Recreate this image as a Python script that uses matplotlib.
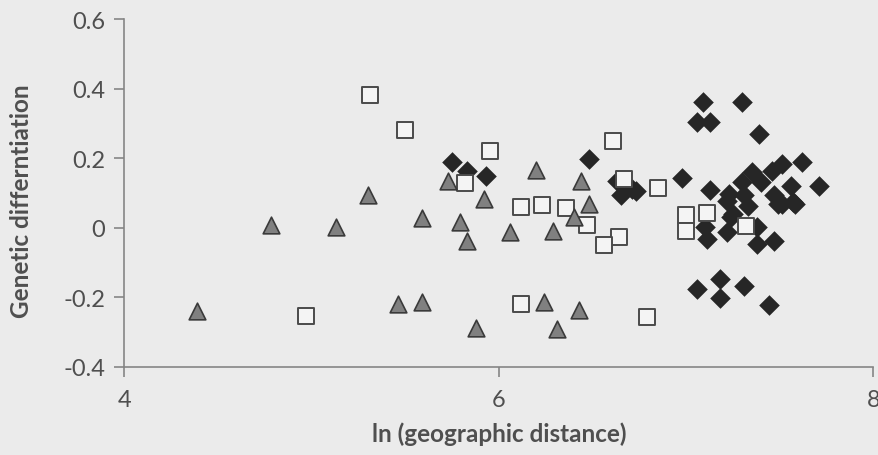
import matplotlib.pyplot as plt

# ln(distance) vs genetic differentiation, three groups of population pairs
tri_x = [4.39, 4.78, 5.13, 5.30, 5.46, 5.59, 5.59, 5.73, 5.79, 5.83, 5.92, 5.88,
         6.20, 6.44, 6.48, 6.40, 6.06, 6.29, 6.24, 6.43, 6.31]
tri_y = [-0.239, 0.009, 0.002, 0.093, -0.218, -0.213, 0.028, 0.134, 0.018, -0.039, 0.083, -0.288,
         0.166, 0.136, 0.069, 0.031, -0.012, -0.009, -0.213, -0.237, -0.292]

sq_x = [5.31, 5.50, 5.95, 5.82, 4.97, 6.61, 6.67, 6.85, 6.12, 6.23, 6.36, 6.47,
        6.64, 6.56, 7.00, 7.11, 7.00, 7.32, 6.12, 6.79]
sq_y = [0.382, 0.281, 0.222, 0.128, -0.253, 0.250, 0.141, 0.114, 0.059, 0.067, 0.057, 0.009,
        -0.027, -0.048, 0.037, 0.043, -0.008, 0.004, -0.218, -0.255]

dia_x = [5.75, 5.83, 5.93, 6.48, 6.63, 6.71, 6.65, 6.73, 6.98, 7.09, 7.30, 7.06,
         7.13, 7.39, 7.13, 7.62, 7.71, 7.51, 7.35, 7.46, 7.30, 7.40, 7.56, 7.23,
         7.31, 7.47, 7.57, 7.49, 7.33, 7.25, 7.22, 7.51, 7.58, 7.24, 7.11, 7.22,
         7.38, 7.47, 7.10, 7.38, 7.18, 7.06, 7.18, 7.31, 7.44]
dia_y = [0.189, 0.164, 0.150, 0.198, 0.135, 0.112, 0.093, 0.107, 0.143, 0.361, 0.362, 0.305,
         0.305, 0.270, 0.110, 0.190, 0.121, 0.184, 0.160, 0.164, 0.131, 0.131, 0.121, 0.098,
         0.093, 0.093, 0.074, 0.069, 0.064, 0.040, 0.078, 0.069, 0.069, 0.031, -0.032, -0.012,
         -0.046, -0.039, 0.002, 0.002, -0.146, -0.177, -0.201, -0.167, -0.223]

bg = '#ebebeb'
axis_col = '#858585'
text_col = '#4f4f4f'
font = 'Lato'

fig = plt.figure(figsize=(8.79, 4.56), dpi=100, facecolor=bg)
ax = fig.add_axes([0.1416, 0.193, 0.852, 0.763], facecolor=bg)

ax.scatter(dia_x, dia_y, marker='D', s=10.5**2, color='#262626', linewidths=0, zorder=3)
ax.scatter(sq_x, sq_y, marker='s', s=11.5**2, facecolor='#f4f4f4', edgecolor='#4a4a4a',
           linewidths=1.4, zorder=4)
ax.scatter(tri_x, tri_y, marker='^', s=12**2, facecolor='#808080', edgecolor='#3a3a3a',
           linewidths=1.2, zorder=5)

ax.set_xlim(4, 8)
ax.set_ylim(-0.4, 0.6)
ax.set_xticks([4, 6, 8])
ax.set_yticks([-0.4, -0.2, 0, 0.2, 0.4, 0.6])
ax.set_yticklabels(['-0.4', '-0.2', '0', '0.2', '0.4', '0.6'])

for side in ['top', 'right']:
    ax.spines[side].set_visible(False)
for side in ['left', 'bottom']:
    ax.spines[side].set_color(axis_col)
    ax.spines[side].set_linewidth(1.2)

ax.tick_params(axis='both', colors=axis_col, length=7, width=1.2,
               labelcolor=text_col, labelsize=17)
ax.tick_params(axis='y', pad=7)
ax.tick_params(axis='x', pad=9)
for lbl in ax.get_xticklabels() + ax.get_yticklabels():
    lbl.set_fontfamily(font)

ax.set_xlabel('ln (geographic distance)', fontsize=17.5, fontweight='bold',
              color=text_col, family=font)
ax.set_ylabel('Genetic differntiation', fontsize=17.5, fontweight='bold',
              color=text_col, family=font)
ax.xaxis.set_label_coords(0.5, -0.155)
ax.yaxis.set_label_coords(-0.122, 0.48)

fig.savefig('out.png', dpi=100, facecolor=bg)
